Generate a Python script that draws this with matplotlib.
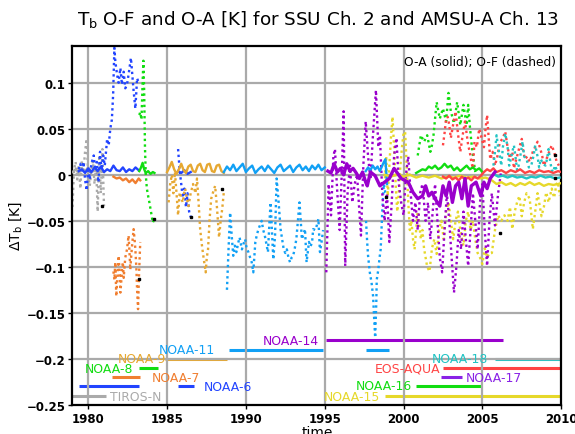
import matplotlib
matplotlib.use("Agg")
import matplotlib.pyplot as plt
import numpy as np

# ---- satellite colours
c_tiros = "#aaaaaa"
c_n6 = "#2244ff"
c_n7 = "#f07e30"
c_n8 = "#11dd11"
c_n9 = "#e6a832"
c_n11 = "#11a0f5"
c_n14 = "#9900cc"
c_n15 = "#e6d82a"
c_n16 = "#11dd11"
c_n17 = "#8a22e6"
c_aqua = "#ff4444"
c_n18 = "#22c4c4"

# ---- TIROS-N
tn_oa_t = [1979.0, 1979.2, 1979.4, 1979.6, 1979.8, 1980.0, 1980.2, 1980.4, 1980.6, 1980.8, 1981.0]
tn_oa = [0.003, 0.006, 0.002, 0.007, 0.004, 0.008, 0.003, 0.006, 0.002, 0.005, 0.003]
tn_of_t = [1979.0, 1979.1, 1979.2, 1979.3, 1979.4, 1979.5, 1979.6, 1979.7, 1979.8, 1979.9, 1980.0,
           1980.1, 1980.2, 1980.3, 1980.4, 1980.5, 1980.6, 1980.7, 1980.8, 1980.9, 1981.0]
tn_of = [-0.035, 0.005, 0.014, -0.005, 0.01, -0.015, 0.015, 0.005, 0.025, 0.039, 0.0,
         -0.012, 0.005, 0.015, -0.01, 0.01, -0.04, 0.021, -0.02, 0.028, -0.034]

# ---- NOAA-6 (two periods)
n6_oa_t = [1979.4, 1979.6, 1979.8, 1980.0, 1980.2, 1980.4, 1980.6, 1980.8, 1981.0, 1981.2,
           1981.4, 1981.6, 1981.8, 1982.0, 1982.2, 1982.4, 1982.6, 1982.8, 1983.0, 1983.2]
n6_oa = [0.004, 0.006, 0.002, 0.007, 0.003, 0.008, 0.004, 0.009, 0.003, 0.006,
         0.004, 0.01, 0.005, 0.004, 0.008, 0.003, 0.006, 0.004, 0.008, 0.005]
n6_of_t = [1979.4, 1979.5, 1979.6, 1979.7, 1979.8, 1979.9, 1980.0, 1980.1, 1980.2, 1980.35,
           1980.45, 1980.55, 1980.65, 1980.75, 1980.85, 1980.95, 1981.05, 1981.2, 1981.3, 1981.4,
           1981.5, 1981.58, 1981.66, 1981.72, 1981.83, 1981.93, 1982.04, 1982.14, 1982.25, 1982.35,
           1982.46, 1982.56, 1982.71, 1982.78, 1982.88, 1982.99, 1983.1, 1983.2]
n6_of = [0.006, 0.012, 0.002, 0.014, -0.005, -0.017, 0.008, -0.005, 0.012, 0.021,
         0.005, 0.014, -0.008, 0.025, 0.005, 0.021, 0.01, 0.039, 0.032, 0.05,
         0.06, 0.087, 0.138, 0.123, 0.109, 0.10, 0.116, 0.098, 0.112, 0.094,
         0.098, 0.109, 0.127, 0.112, 0.091, 0.072, 0.105, 0.10]
n6b_oa_t = [1985.7, 1985.9, 1986.1, 1986.3, 1986.5]
n6b_oa = [0.004, 0.002, 0.005, 0.001, 0.003]
n6b_of_t = [1985.7, 1985.8, 1985.9, 1986.0, 1986.1, 1986.2, 1986.3, 1986.4, 1986.5]
n6b_of = [0.028, 0.005, -0.01, -0.025, -0.015, -0.035, -0.02, -0.04, -0.046]

# ---- NOAA-7
n7_oa_t = [1981.6, 1981.8, 1982.0, 1982.2, 1982.4, 1982.6, 1982.8, 1983.0, 1983.2, 1983.3]
n7_oa = [-0.002, -0.004, -0.003, -0.006, -0.004, -0.008, -0.005, -0.009, -0.004, -0.006]
n7_of_t = [1981.6, 1981.66, 1981.72, 1981.78, 1981.85, 1981.93, 1982.0, 1982.04, 1982.1, 1982.14,
           1982.2, 1982.25, 1982.35, 1982.46, 1982.56, 1982.62, 1982.67, 1982.72, 1982.78, 1982.88,
           1982.94, 1982.99, 1983.05, 1983.1, 1983.16, 1983.22, 1983.3]
n7_of = [-0.105, -0.114, -0.095, -0.132, -0.11, -0.088, -0.11, -0.128, -0.115, -0.103,
         -0.095, -0.112, -0.09, -0.081, -0.066, -0.085, -0.103, -0.09, -0.077, -0.059,
         -0.07, -0.081, -0.1, -0.125, -0.146, -0.11, -0.073]

# ---- NOAA-8
n8_oa_t = [1983.24, 1983.35, 1983.45, 1983.55, 1983.65, 1983.8, 1983.95, 1984.1, 1984.2]
n8_oa = [0.004, 0.008, 0.013, 0.006, 0.002, 0.004, 0.001, 0.003, 0.002]
n8_of_t = [1983.24, 1983.3, 1983.38, 1983.45, 1983.5, 1983.55, 1983.6, 1983.65, 1983.72, 1983.8,
           1983.88, 1983.95, 1984.02, 1984.1, 1984.2]
n8_of = [0.065, 0.068, 0.06, 0.1, 0.124, 0.09, 0.03, 0.0, -0.015, -0.023,
         -0.03, -0.037, -0.044, -0.052, -0.047]

# ---- NOAA-9
n9_oa_t = [1985.0, 1985.15, 1985.3, 1985.45, 1985.6, 1985.75, 1985.9, 1986.05, 1986.2, 1986.35,
           1986.5, 1986.65, 1986.8, 1986.95, 1987.1, 1987.25, 1987.4, 1987.55, 1987.7, 1987.85,
           1988.0, 1988.15, 1988.3, 1988.45, 1988.6]
n9_oa = [0.003, 0.008, 0.014, 0.006, 0.001, 0.006, 0.012, 0.005, 0.002, 0.009,
         0.011, 0.004, 0.003, 0.01, 0.012, 0.005, 0.003, 0.011, 0.012, 0.004,
         0.003, 0.01, 0.011, 0.004, 0.002]
n9_of_t = [1985.1, 1985.2, 1985.3, 1985.4, 1985.5, 1985.6, 1985.7, 1985.8, 1985.9, 1986.0,
           1986.08, 1986.15, 1986.25, 1986.36, 1986.5, 1986.65, 1986.8, 1986.9, 1987.0, 1987.1,
           1987.2, 1987.3, 1987.4, 1987.45, 1987.52, 1987.6, 1987.7, 1987.8, 1987.9, 1988.05,
           1988.16, 1988.3, 1988.4, 1988.5, 1988.6]
n9_of = [-0.03, -0.01, 0.0, -0.02, 0.003, -0.02, -0.044, -0.019, -0.025, -0.03,
         -0.02, -0.015, -0.025, -0.034, -0.02, -0.01, -0.02, -0.004, -0.03, -0.059,
         -0.075, -0.088, -0.1, -0.106, -0.09, -0.081, -0.048, -0.026, -0.02, -0.012,
         -0.034, -0.068, -0.05, -0.037, -0.019]

# ---- NOAA-11 (two periods)
n11_oa_t = [1988.6, 1988.8, 1989.0, 1989.2, 1989.4, 1989.6, 1989.8, 1990.0, 1990.2, 1990.4,
            1990.6, 1990.8, 1991.0, 1991.2, 1991.4, 1991.6, 1991.8, 1992.0, 1992.2, 1992.4,
            1992.6, 1992.8, 1993.0, 1993.2, 1993.4, 1993.6, 1993.8, 1994.0, 1994.2, 1994.4,
            1994.6, 1994.8, 1995.0]
n11_oa = [0.003, 0.009, 0.005, 0.011, 0.004, 0.008, 0.012, 0.003, 0.007, 0.01,
          0.002, 0.006, 0.009, 0.004, 0.01, 0.006, 0.002, 0.008, 0.011, 0.004,
          0.007, 0.01, 0.003, 0.008, 0.011, 0.005, 0.009, 0.004, 0.01, 0.006,
          0.011, 0.005, 0.008]
n11_of_t = [1988.8, 1988.9, 1989.0, 1989.1, 1989.2, 1989.3, 1989.4, 1989.5, 1989.6, 1989.75,
            1989.85, 1989.95, 1990.05, 1990.16, 1990.27, 1990.37, 1990.47, 1990.6, 1990.7, 1990.8,
            1991.0, 1991.1, 1991.2, 1991.3, 1991.4, 1991.5, 1991.57, 1991.65, 1991.74, 1991.85,
            1991.95, 1992.06, 1992.2, 1992.3, 1992.4, 1992.5, 1992.6, 1992.7, 1992.8, 1992.9,
            1993.0, 1993.1, 1993.2, 1993.3, 1993.4, 1993.48, 1993.55, 1993.65, 1993.75, 1993.85,
            1993.92, 1994.0, 1994.1, 1994.2, 1994.27, 1994.4, 1994.5, 1994.6, 1994.7, 1994.8,
            1994.9]
n11_of = [-0.125, -0.081, -0.041, -0.066, -0.088, -0.077, -0.084, -0.075, -0.068, -0.081,
          -0.075, -0.07, -0.08, -0.084, -0.09, -0.095, -0.106, -0.073, -0.065, -0.059,
          -0.05, -0.06, -0.066, -0.075, -0.084, -0.05, -0.03, -0.06, -0.092, -0.066,
          -0.004, -0.026, -0.059, -0.07, -0.081, -0.085, -0.081, -0.09, -0.095, -0.09,
          -0.088, -0.08, -0.07, -0.05, -0.03, -0.05, -0.07, -0.065, -0.059, -0.095,
          -0.085, -0.073, -0.078, -0.073, -0.059, -0.06, -0.055, -0.048, -0.084, -0.073,
          -0.06]
n11b_oa_t = [1997.6, 1997.75, 1997.9, 1998.05, 1998.2, 1998.35, 1998.5, 1998.6, 1998.7, 1998.85, 1998.95]
n11b_oa = [0.004, 0.008, 0.005, 0.01, 0.006, 0.009, 0.004, 0.008, 0.012, 0.017, -0.01]
n11b_of_t = [1997.62, 1997.7, 1997.75, 1997.86, 1997.97, 1998.07, 1998.13, 1998.2, 1998.27, 1998.3,
             1998.4, 1998.48, 1998.55, 1998.65, 1998.75, 1998.85]
n11b_of = [-0.05, -0.075, -0.088, -0.106, -0.117, -0.132, -0.154, -0.177, -0.14, -0.114,
           -0.103, -0.09, -0.081, -0.04, -0.01, -0.02]

# ---- NOAA-14
n14_oa_t = [1995.2, 1995.4, 1995.6, 1995.8, 1996.0, 1996.2, 1996.4, 1996.6, 1996.8, 1997.0,
            1997.2, 1997.4, 1997.6, 1997.7, 1997.9, 1998.2, 1998.5, 1998.8, 1999.1, 1999.4,
            1999.85, 2000.3, 2000.6, 2000.9, 2001.2, 2001.4, 2001.6, 2001.8, 2002.0, 2002.3,
            2002.5, 2002.7, 2002.9, 2003.1, 2003.3, 2003.5, 2003.7, 2003.9, 2004.1, 2004.3,
            2004.6, 2004.9, 2005.1, 2005.3, 2005.5, 2005.8]
n14_oa = [0.004, 0.002, 0.012, 0.003, 0.007, 0.0, 0.012, 0.004, 0.007, 0.002,
          -0.004, 0.003, -0.008, -0.012, 0.003, -0.001, -0.012, -0.008, -0.004, 0.007,
          -0.004, -0.008, -0.019, -0.026, -0.023, -0.012, -0.023, -0.019, -0.026, -0.034,
          -0.012, -0.023, -0.008, -0.03, -0.012, -0.008, -0.026, -0.004, -0.034, -0.012,
          -0.008, -0.023, -0.008, -0.015, -0.004, 0.003]
n14_of_t = [1995.1, 1995.25, 1995.4, 1995.55, 1995.65, 1995.8, 1995.95, 1996.1, 1996.2, 1996.3,
            1996.45, 1996.6, 1996.75, 1996.9, 1997.05, 1997.2, 1997.3, 1997.45, 1997.6, 1997.75,
            1997.9, 1998.05, 1998.25, 1998.4, 1998.5, 1998.65, 1998.8, 1998.95, 1999.1, 1999.25,
            1999.4, 1999.55, 1999.7, 1999.85, 2000.0, 2000.15, 2000.3, 2000.45, 2000.6, 2000.75,
            2000.9, 2001.05, 2001.2, 2001.4, 2001.55, 2001.7, 2001.85, 2002.0, 2002.15, 2002.3,
            2002.45, 2002.6, 2002.75, 2002.9, 2003.05, 2003.2, 2003.35, 2003.5, 2003.65, 2003.8,
            2003.95, 2004.1, 2004.25, 2004.4, 2004.55, 2004.7, 2004.85, 2005.0, 2005.15, 2005.3,
            2005.45, 2005.6, 2005.8, 2006.0, 2006.2]
n14_of = [-0.106, -0.01, -0.044, 0.02, 0.028, -0.02, -0.06, 0.01, 0.069, -0.099,
          -0.02, 0.01, -0.03, -0.01, 0.0, -0.04, -0.066, 0.01, 0.058, 0.02,
          -0.005, 0.04, 0.092, 0.03, 0.043, -0.02, -0.05, -0.02, -0.073, -0.03,
          0.02, 0.04, -0.01, -0.03, -0.044, 0.0, 0.02, -0.02, -0.05, -0.03,
          -0.06, -0.02, -0.01, -0.05, -0.03, -0.07, -0.04, -0.01, -0.05, -0.09,
          -0.106, -0.06, -0.02, -0.05, -0.09, -0.128, -0.1, -0.06, -0.081, -0.04,
          -0.07, -0.099, -0.06, -0.02, -0.05, -0.081, -0.03, -0.01, -0.06, -0.099,
          -0.05, -0.02, -0.055, -0.02, 0.005]

# ---- NOAA-15
n15_oa_t = [1998.8, 1999.2, 1999.6, 2000.0, 2000.4, 2000.8, 2001.2, 2001.6, 2002.0, 2002.4,
            2002.8, 2003.2, 2003.6, 2004.0, 2004.4, 2004.8, 2005.2, 2005.6, 2005.9, 2006.2,
            2006.5, 2006.8, 2007.1, 2007.4, 2007.7, 2008.0, 2008.3, 2008.6, 2008.9, 2009.2,
            2009.5, 2009.8, 2010.0]
n15_oa = [0.0, -0.002, 0.001, -0.002, 0.0, -0.003, -0.001, -0.003, -0.001, -0.004,
          -0.002, -0.003, -0.001, -0.003, -0.002, -0.004, -0.003, -0.006, -0.01, -0.008,
          -0.011, -0.009, -0.012, -0.009, -0.011, -0.008, -0.011, -0.009, -0.012, -0.01,
          -0.011, -0.01, -0.009]
n15_of_t = [1998.8, 1998.9, 1999.0, 1999.1, 1999.2, 1999.3, 1999.4, 1999.5, 1999.6, 1999.7,
            1999.8, 1999.9, 2000.0, 2000.1, 2000.2, 2000.3, 2000.4, 2000.5, 2000.6, 2000.7,
            2000.8, 2000.9, 2001.0, 2001.1, 2001.2, 2001.3, 2001.4, 2001.5, 2001.65, 2001.8,
            2001.95, 2002.1, 2002.25, 2002.4, 2002.55, 2002.7, 2002.85, 2003.0, 2003.15, 2003.3,
            2003.45, 2003.6, 2003.8, 2003.95, 2004.1, 2004.25, 2004.4, 2004.55, 2004.7, 2004.85,
            2005.0, 2005.15, 2005.3, 2005.45, 2005.6, 2005.8, 2006.0, 2006.2, 2006.4, 2006.6,
            2006.75, 2006.9, 2007.05, 2007.2, 2007.35, 2007.5, 2007.65, 2007.8, 2008.0, 2008.2,
            2008.35, 2008.5, 2008.6, 2008.75, 2008.9, 2009.05, 2009.2, 2009.4, 2009.55, 2009.7,
            2009.8, 2009.9]
n15_of = [-0.01, 0.02, -0.023, 0.01, 0.04, 0.063, 0.03, -0.01, -0.04, -0.02,
          0.01, 0.03, 0.045, 0.047, 0.01, -0.03, -0.06, -0.05, -0.07, -0.081,
          -0.06, -0.04, -0.055, -0.07, -0.06, -0.08, -0.09, -0.1, -0.105, -0.08,
          -0.07, -0.086, -0.06, -0.05, -0.07, -0.04, -0.03, -0.05, -0.07, -0.05,
          -0.04, -0.06, -0.077, -0.05, -0.04, -0.06, -0.05, -0.07, -0.085, -0.09,
          -0.097, -0.08, -0.09, -0.085, -0.085, -0.06, -0.044, -0.05, -0.044, -0.05,
          -0.035, -0.059, -0.04, -0.03, -0.023, -0.045, -0.03, -0.02, -0.026, -0.059,
          -0.04, -0.02, -0.03, -0.045, -0.035, -0.019, -0.03, -0.015, -0.025, -0.01,
          -0.008, -0.023]

# ---- NOAA-16
n16_oa_t = [2000.8, 2001.0, 2001.2, 2001.4, 2001.6, 2001.8, 2002.0, 2002.2, 2002.4, 2002.6,
            2002.8, 2003.0, 2003.2, 2003.4, 2003.6, 2003.8, 2004.0, 2004.2, 2004.4, 2004.6,
            2004.8, 2005.0]
n16_oa = [0.002, 0.004, 0.006, 0.005, 0.009, 0.007, 0.01, 0.006, 0.008, 0.012,
          0.008, 0.01, 0.005, 0.008, 0.004, 0.007, 0.01, 0.006, 0.008, 0.005,
          0.007, 0.003]
n16_of_t = [2000.9, 2001.1, 2001.3, 2001.5, 2001.7, 2001.8, 2001.9, 2002.1, 2002.3, 2002.5,
            2002.7, 2002.85, 2003.0, 2003.2, 2003.4, 2003.6, 2003.8, 2004.0, 2004.1, 2004.2,
            2004.3, 2004.4, 2004.55]
n16_of = [0.021, 0.043, 0.036, 0.043, 0.025, 0.032, 0.043, 0.079, 0.061, 0.072,
          0.058, 0.089, 0.069, 0.056, 0.079, 0.054, 0.076, 0.054, 0.076, 0.054,
          0.036, 0.021, 0.003]

# ---- EOS-AQUA
aq_oa_t = [2002.5, 2002.7, 2002.9, 2003.1, 2003.3, 2003.5, 2003.7, 2003.9, 2004.1, 2004.3,
           2004.5, 2004.7, 2004.9, 2005.1, 2005.3, 2005.5, 2005.7, 2005.9, 2006.2, 2006.5,
           2006.8, 2007.1, 2007.4, 2007.7, 2008.0, 2008.3, 2008.6, 2008.9, 2009.2, 2009.5,
           2009.8, 2010.0]
aq_oa = [-0.002, -0.004, -0.001, -0.005, -0.003, -0.006, -0.002, -0.005, -0.003, -0.006,
         -0.002, -0.004, -0.001, 0.003, 0.006, 0.004, 0.007, 0.003, 0.005, 0.002,
         0.005, 0.003, 0.006, 0.002, 0.004, 0.002, 0.005, 0.003, 0.004, 0.002,
         0.004, 0.003]
aq_of_t = [2002.5, 2002.6, 2002.7, 2002.8, 2002.9, 2003.0, 2003.1, 2003.2, 2003.3, 2003.45,
           2003.6, 2003.75, 2003.9, 2004.0, 2004.1, 2004.2, 2004.3, 2004.4, 2004.5, 2004.65,
           2004.8, 2004.95, 2005.1, 2005.2, 2005.3, 2005.4, 2005.5, 2005.65, 2005.8, 2005.95,
           2006.1, 2006.3, 2006.45, 2006.6, 2006.75, 2006.9, 2007.0, 2007.2, 2007.35, 2007.5,
           2007.6, 2007.7, 2007.85, 2008.0, 2008.2, 2008.35, 2008.5, 2008.65, 2008.8, 2008.9,
           2009.0, 2009.15, 2009.3, 2009.4, 2009.55, 2009.7, 2009.85]
aq_of = [0.032, 0.045, 0.061, 0.063, 0.054, 0.04, 0.05, 0.06, 0.069, 0.045,
         0.025, 0.043, 0.058, 0.045, 0.032, 0.025, 0.014, 0.007, 0.036, 0.03,
         0.05, 0.04, 0.03, 0.05, 0.065, 0.04, 0.017, 0.025, 0.01, 0.02,
         0.035, 0.04, 0.047, 0.03, 0.018, 0.025, 0.007, 0.02, 0.03, 0.039,
         0.025, 0.017, 0.02, 0.014, 0.025, 0.03, 0.036, 0.03, 0.02, 0.01,
         0.014, 0.021, 0.028, 0.032, 0.025, 0.015, 0.01]

# ---- NOAA-18
n18_oa_t = [2005.7, 2006.0, 2006.3, 2006.6, 2006.9, 2007.2, 2007.5, 2007.8, 2008.1, 2008.4,
            2008.7, 2009.0, 2009.3, 2009.6, 2009.9]
n18_oa = [0.001, -0.002, -0.001, -0.003, -0.001, -0.003, -0.002, -0.004, -0.002, -0.003,
          -0.001, -0.003, -0.002, -0.004, -0.003]
n18_of_t = [2005.7, 2005.8, 2005.9, 2006.0, 2006.1, 2006.2, 2006.3, 2006.45, 2006.6, 2006.7,
            2006.8, 2006.9, 2007.0, 2007.1, 2007.2, 2007.3, 2007.45, 2007.55, 2007.65, 2007.8,
            2007.95, 2008.1, 2008.25, 2008.35, 2008.5, 2008.6, 2008.7, 2008.85, 2009.0, 2009.1,
            2009.2, 2009.3, 2009.4, 2009.5, 2009.6, 2009.75]
n18_of = [0.01, 0.025, 0.043, 0.03, 0.021, 0.01, 0.03, 0.045, 0.03, 0.01,
          0.017, 0.025, 0.032, 0.02, 0.005, 0.01, 0.025, 0.036, 0.02, 0.017,
          0.008, 0.01, 0.021, 0.032, 0.02, 0.008, 0.017, 0.012, 0.01, 0.017,
          0.028, 0.015, 0.005, 0.003, 0.01, 0.004]

# ---- small black end markers
dot_t = [1980.9, 1983.2, 1984.2, 1986.5, 1988.5, 1998.9, 2006.1, 2009.6, 2009.6]
dot_v = [-0.034, -0.113, -0.048, -0.046, -0.015, -0.024, -0.063, -0.004, 0.022]

# ---- satellite period bars (start, end, level)
bar_names = ["TIROS-N", "NOAA-6", "NOAA-6", "NOAA-7", "NOAA-8", "NOAA-9", "NOAA-11", "NOAA-11",
             "NOAA-14", "NOAA-15", "NOAA-16", "NOAA-17", "EOS-AQUA", "NOAA-18"]
bar_start = [1979.0, 1979.4, 1985.7, 1981.5, 1983.2, 1984.9, 1988.9, 1997.6,
             1995.1, 1998.8, 2000.8, 2002.4, 2002.5, 2005.8]
bar_end = [1981.1, 1983.2, 1986.7, 1983.3, 1984.4, 1988.8, 1994.9, 1999.1,
           2006.3, 2010.0, 2005.0, 2003.7, 2010.0, 2010.0]
bar_level = [-0.24, -0.23, -0.23, -0.22, -0.21, -0.20, -0.19, -0.19,
             -0.18, -0.24, -0.23, -0.22, -0.21, -0.20]
bar_colors = [c_tiros, c_n6, c_n6, c_n7, c_n8, c_n9, c_n11, c_n11,
              c_n14, c_n15, c_n16, c_n17, c_aqua, c_n18]

label_names = ["TIROS-N", "NOAA-6", "NOAA-7", "NOAA-8", "NOAA-9", "NOAA-11", "NOAA-14",
               "NOAA-15", "NOAA-16", "NOAA-17", "EOS-AQUA", "NOAA-18"]
label_x = [1981.35, 1987.35, 1984.0, 1979.8, 1981.85, 1984.45, 1991.05,
           1994.95, 1996.95, 2003.95, 1998.2, 2001.8]
label_y = [-0.2405, -0.23, -0.22, -0.2105, -0.1995, -0.19, -0.18,
           -0.2405, -0.2295, -0.22, -0.21, -0.20]
label_colors = [c_tiros, c_n6, c_n7, c_n8, c_n9, c_n11, c_n14,
                c_n15, c_n16, c_n17, c_aqua, c_n18]

series = [
    (tn_oa_t, tn_oa, tn_of_t, tn_of, c_tiros),
    (n6_oa_t, n6_oa, n6_of_t, n6_of, c_n6),
    (n7_oa_t, n7_oa, n7_of_t, n7_of, c_n7),
    (n8_oa_t, n8_oa, n8_of_t, n8_of, c_n8),
    (n6b_oa_t, n6b_oa, n6b_of_t, n6b_of, c_n6),
    (n9_oa_t, n9_oa, n9_of_t, n9_of, c_n9),
    (n11_oa_t, n11_oa, n11_of_t, n11_of, c_n11),
    (n11b_oa_t, n11b_oa, n11b_of_t, n11b_of, c_n11),
    (n15_oa_t, n15_oa, n15_of_t, n15_of, c_n15),
    (n16_oa_t, n16_oa, n16_of_t, n16_of, c_n16),
    (aq_oa_t, aq_oa, aq_of_t, aq_of, c_aqua),
    (n18_oa_t, n18_oa, n18_of_t, n18_of, c_n18),
    (n14_oa_t, n14_oa, n14_of_t, n14_of, c_n14),
]

fig = plt.figure(figsize=(5.75, 4.35), dpi=100)
ax = fig.add_axes([0.126, 0.067, 0.85, 0.825])

grid_c = "#aaaaaa"
for yr in [1980, 1985, 1990, 1995, 2000, 2005]:
    ax.axvline(yr, color=grid_c, lw=1.6, zorder=1)
for v in [0.1, 0.05, 0.0, -0.05, -0.1, -0.15, -0.2]:
    ax.axhline(v, color=grid_c, lw=1.6, zorder=1)

dotted = (0, (1, 1.4))
for oa_t, oa, of_t, of, col in series:
    ax.plot(of_t, of, color=col, lw=1.7, ls=dotted, zorder=2)
for oa_t, oa, of_t, of, col in series:
    lw = 2.4 if col == c_n14 else 1.7
    ax.plot(oa_t, oa, color=col, lw=lw, zorder=3)

ax.plot(dot_t, dot_v, ls="none", marker="s", ms=2, color="black", zorder=4)

# period bars sit under the grid, so the ones on a grid level look faded
for s, e, lv, col in zip(bar_start, bar_end, bar_level, bar_colors):
    ax.plot([s, e], [lv, lv], color=col, lw=2.2, solid_capstyle="butt", zorder=0.5)
for name, x, y, col in zip(label_names, label_x, label_y, label_colors):
    ax.text(x, y, name, color=col, fontsize=8.9, va="center", ha="left", zorder=5)

ax.text(0.99, 0.975, "O-A (solid); O-F (dashed)", transform=ax.transAxes,
        ha="right", va="top", fontsize=8.8)

ax.set_xlim(1979, 2010)
ax.set_ylim(-0.25, 0.14)
ax.set_xticks([1980, 1985, 1990, 1995, 2000, 2005, 2010])
ax.set_xticklabels(["1980", "1985", "1990", "1995", "2000", "2005", "2010"],
                   fontsize=8.5, fontweight="bold")
yt = [0.1, 0.05, 0.0, -0.05, -0.1, -0.15, -0.2, -0.25]
ax.set_yticks(yt)
ax.set_yticklabels(["0.1", "0.05", "0", "\u22120.05", "\u22120.1", "\u22120.15", "\u22120.2", "\u22120.25"],
                   fontsize=8.5, fontweight="bold")
ax.tick_params(axis="both", direction="out", length=3, width=1, pad=2)
for sp in ax.spines.values():
    sp.set_linewidth(1.6)

ax.set_xlabel("time", fontsize=10, labelpad=0)
ax.set_ylabel("\u0394T$_\\mathregular{b}$ [K]", fontsize=10, labelpad=2)
fig.text(0.553, 0.955, "T$_\\mathregular{b}$ O-F and O-A [K] for SSU Ch. 2 and AMSU-A Ch. 13",
         ha="center", va="center", fontsize=13.2)

fig.savefig("out.png", dpi=100)
